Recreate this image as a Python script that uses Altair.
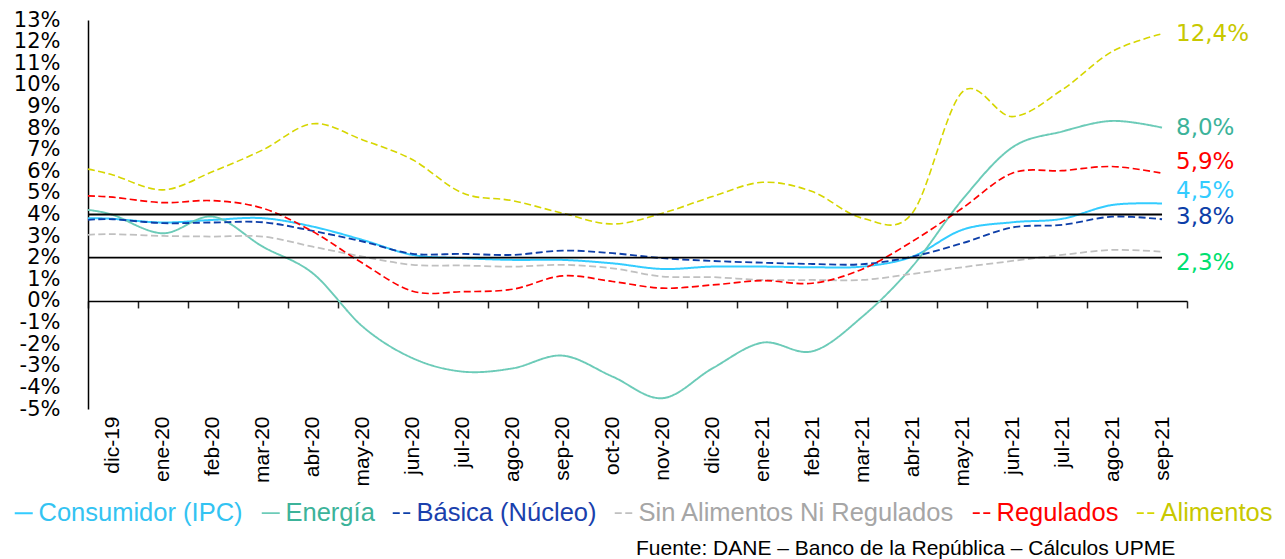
import altair as alt
import pandas as pd

# ---------------- data ----------------
months = ["dic-19", "ene-20", "feb-20", "mar-20", "abr-20", "may-20", "jun-20",
          "jul-20", "ago-20", "sep-20", "oct-20", "nov-20", "dic-20", "ene-21",
          "feb-21", "mar-21", "abr-21", "may-21", "jun-21", "jul-21", "ago-21",
          "sep-21"]

series_names = ["Consumidor (IPC)", "Energía", "Básica (Núcleo)",
                "Sin Alimentos Ni Regulados", "Regulados", "Alimentos"]

# value of each curve where it meets the vertical axis
start_values = [3.83, 4.21, 3.75, 3.06, 4.86, 6.10]

consumidor = [3.80, 3.63, 3.75, 3.83, 3.44, 2.82, 2.13, 1.98, 1.90, 1.90, 1.74,
              1.48, 1.59, 1.59, 1.56, 1.59, 2.05, 3.29, 3.64, 3.80, 4.44, 4.51]
energia = [3.98, 3.13, 3.90, 2.51, 1.28, -1.19, -2.65, -3.27, -3.12, -2.53, -3.50,
           -4.50, -3.12, -1.93, -2.33, -0.73, 1.59, 4.68, 7.10, 7.84, 8.33, 8.02]
basica = [3.78, 3.60, 3.63, 3.64, 3.24, 2.75, 2.18, 2.18, 2.13, 2.33, 2.21,
          1.98, 1.85, 1.77, 1.71, 1.70, 2.05, 2.67, 3.40, 3.52, 3.90, 3.78]
sin_alimentos = [3.09, 3.01, 2.98, 2.98, 2.51, 2.05, 1.67, 1.64, 1.59, 1.67, 1.51,
                 1.13, 1.10, 0.97, 0.97, 0.97, 1.25, 1.56, 1.85, 2.13, 2.36, 2.28]
regulados = [4.80, 4.55, 4.64, 4.29, 3.21, 1.74, 0.45, 0.43, 0.54, 1.16, 0.90,
             0.59, 0.74, 0.94, 0.82, 1.47, 2.75, 4.29, 5.91, 6.03, 6.22, 5.91]
alimentos = [5.83, 5.14, 5.99, 6.99, 8.20, 7.45, 6.53, 4.99, 4.64, 4.06, 3.56,
             4.06, 4.83, 5.49, 5.06, 3.83, 4.06, 9.66, 8.53, 9.77, 11.54, 12.36]

end_labels = ["4,5%", "8,0%", "3,8%", "2,3%", "5,9%", "12,4%"]
target_band = [2, 4]
y_ticks = list(range(-5, 14))
source_text = "Fuente: DANE – Banco de la República – Cálculos UPME"

all_series = [consumidor, energia, basica, sin_alimentos, regulados, alimentos]

# ---------------- styles ----------------
line_colors = ["#33ccff", "#6ccbb8", "#0d3ea8", "#c0c0c0", "#ff0000", "#d6d600"]
legend_text_colors = ["#33c3f2", "#3cb39a", "#1a40ad", "#a6a6a6", "#ff0000", "#c8c800"]
end_label_colors = ["#33ccff", "#3cb39a", "#0d3ea8", "#00e070", "#ff0000", "#c8c800"]
end_label_dy = [-12, 0, -2, 11, -11, 0]
dashes = [[1, 0], [1, 0], [7, 3.5], [7, 3.5], [7, 3.5], [7, 3.5]]
widths = [2, 1.6, 2.5, 2.5, 2.5, 2.5]

W, H = 1099, 389
ydom = [-5, 13]
nb = len(months)
xdom = [0, nb]

rows = []
for name, start, vals in zip(series_names, start_values, all_series):
    rows.append({"series": name, "p": 0.0, "v": start})
    for i, v in enumerate(vals):
        rows.append({"series": name, "p": i + 0.5, "v": v})
df = pd.DataFrame(rows)

months_df = pd.DataFrame({"pc": [i + 0.5 for i in range(nb)], "m": months})
band_df = pd.DataFrame({"v": target_band})
last_p = nb - 0.5


def xscale():
    return alt.Scale(domain=xdom, nice=False, zero=False)


def yscale():
    return alt.Scale(domain=ydom, nice=False, zero=False)


zero_offset = -H * (0 - ydom[0]) / (ydom[1] - ydom[0])

names_js = "[" + ",".join("'" + n + "'" for n in series_names) + "]"
cols_js = "[" + ",".join("'" + c + "'" for c in legend_text_colors) + "]"
months_js = "[" + ",".join("'" + m + "'" for m in months) + "]"

legend = alt.Legend(
    title=None, orient="none", legendX=-77, legendY=480, direction="horizontal",
    symbolType="stroke", symbolSize=324, symbolStrokeWidth=2,
    labelFont="Liberation Sans", labelFontSize=25.5, labelOffset=2,
    columnPadding=14, labelLimit=600,
    labelColor=alt.ExprRef(expr=cols_js + "[indexof(" + names_js + ", datum.value)]"),
)

zero_axis = alt.Axis(orient="bottom", offset=zero_offset, values=list(range(nb + 1)),
                     labels=False, ticks=True, tickSize=7, tickColor="#222222",
                     tickWidth=1.5, domain=True, domainColor="#000000",
                     domainWidth=1.5, grid=False, title=None)

y_axis = alt.Axis(orient="left", values=y_ticks, labelExpr="datum.value + '%'",
                  ticks=False, domain=True, domainColor="#000000", domainWidth=1.5,
                  grid=False, labelFont="DejaVu Sans", labelFontSize=21,
                  labelColor="#000000", labelPadding=28, title=None)

month_axis = alt.Axis(orient="bottom", values=[i + 0.5 for i in range(nb)],
                      labelExpr=months_js + "[floor(datum.value)]",
                      labelAngle=270, labelAlign="right", labelBaseline="middle",
                      labelFont="Liberation Sans", labelFontSize=21,
                      labelColor="#000000", labelPadding=7, labelOverlap=False,
                      labelFlush=False, domain=False, ticks=False, grid=False,
                      title=None)

lines = alt.Chart(df).mark_line(interpolate="cardinal", tension=0).encode(
    x=alt.X("p:Q", scale=xscale(), axis=zero_axis),
    y=alt.Y("v:Q", scale=yscale(), axis=y_axis),
    color=alt.Color("series:N", scale=alt.Scale(domain=series_names, range=line_colors),
                    legend=legend),
    strokeDash=alt.StrokeDash("series:N", scale=alt.Scale(domain=series_names, range=dashes),
                              legend=legend),
    strokeWidth=alt.StrokeWidth("series:N", scale=alt.Scale(domain=series_names, range=widths),
                                legend=None),
    order=alt.Order("p:Q"),
)

bands = alt.Chart(band_df).mark_rule(color="#000000", strokeWidth=1.8).encode(
    y=alt.Y("v:Q", scale=yscale(), axis=y_axis),
    x=alt.XDatum(0, scale=xscale(), axis=None),
    x2=alt.X2Datum(last_p),
)

month_layer = alt.Chart(months_df).mark_point(opacity=0).encode(
    x=alt.X("pc:Q", scale=xscale(), axis=month_axis),
    y=alt.YDatum(0, scale=yscale(), axis=y_axis),
)

label_layers = []
for name, vals, lab, col, dy in zip(series_names, all_series, end_labels,
                                    end_label_colors, end_label_dy):
    label_layers.append(
        alt.Chart(pd.DataFrame({"t": [lab], "v": [vals[-1]], "p": [last_p]}))
        .mark_text(align="left", baseline="middle", dx=14, dy=dy,
                   font="DejaVu Sans", fontSize=23, color=col)
        .encode(x=alt.X("p:Q", scale=xscale(), axis=None),
                y=alt.Y("v:Q", scale=yscale(), axis=y_axis),
                text="t:N")
    )

source = alt.Chart(pd.DataFrame({"t": [source_text]})).mark_text(
    align="left", baseline="alphabetic", font="Liberation Sans", fontSize=21,
    color="#000000").encode(text="t:N", x=alt.value(548), y=alt.value(535))

chart = alt.layer(lines, bands, month_layer, *label_layers, source).resolve_axis(
    x="independent", y="shared"
).properties(
    width=W, height=H,
    autosize=alt.AutoSizeParams(type="none"),
    padding={"left": 80, "top": 12, "right": 90, "bottom": 150},
).configure_view(stroke=None)

chart.save("out.html", embed_options={"renderer": "svg", "actions": False})
